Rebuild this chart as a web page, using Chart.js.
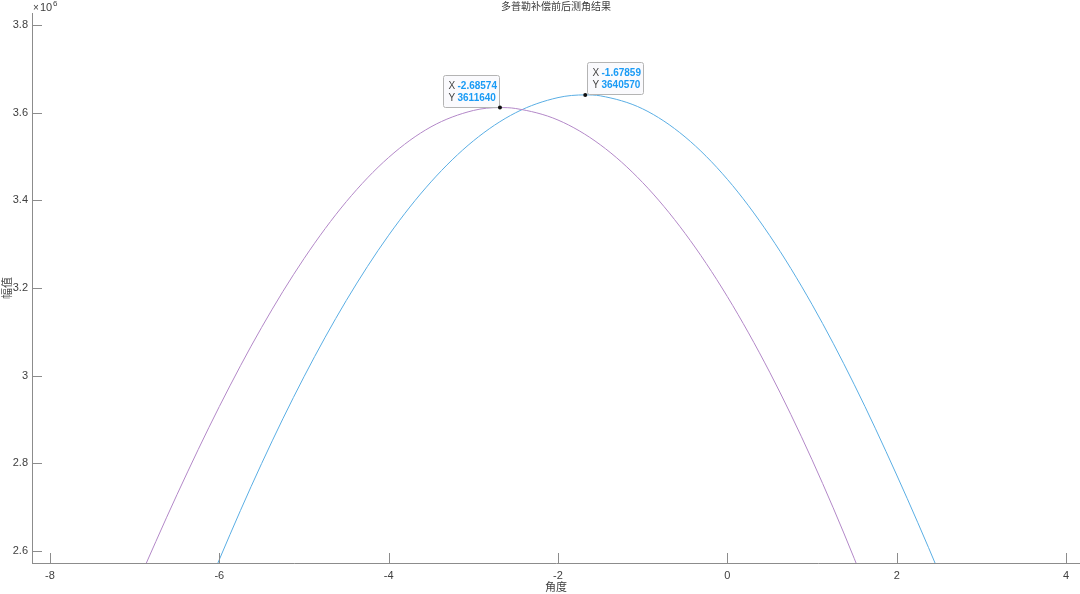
<!DOCTYPE html>
<html>
<head>
<meta charset="utf-8">
<script src="https://cdn.jsdelivr.net/npm/chart.js@4/dist/chart.umd.min.js"></script>
<style>
  html, body { margin: 0; padding: 0; background: #ffffff; }
  #wrap { width: 1080px; height: 594px; position: relative; }
</style>
</head>
<body>
<div id="wrap"><canvas id="c" width="1080" height="594"></canvas></div>
<script>
// ---- DATA ----
const chartTitle = '多普勒补偿前后测角结果';
const xAxisLabel = '角度';
const yAxisLabel = '幅值';

// before compensation (purple)
const purpleAngles = [-7, -6.5, -6, -5.5, -5, -4.5, -4, -3.5, -3, -2.68574, -2.5, -2, -1.5, -1, -0.5, 0, 0.5, 1, 1.5, 2];
const purpleValues = [2512500, 2728600, 2929600, 3110300, 3267000, 3397100, 3497900, 3567700, 3605000, 3611640, 3609500, 3583200, 3526700, 3440500, 3324800, 3180400, 3007900, 2808200, 2582300, 2331600];

// after compensation (blue)
const blueAngles = [-6.5, -6, -5.5, -5, -4.5, -4, -3.5, -3, -2.5, -2, -1.67859, -1.5, -1, -0.5, 0, 0.5, 1, 1.5, 2, 2.5, 3];
const blueValues = [2342300, 2580500, 2799800, 2997600, 3171700, 3320400, 3442100, 3535600, 3599900, 3634400, 3640570, 3638400, 3608700, 3544800, 3448000, 3319700, 3162500, 2979200, 2773400, 2551000, 2311000];

// data tips
const tipPurple = { x: -2.68574, y: 3611640 };
const tipBlue = { x: -1.67859, y: 3640570 };

// ticks
const xTicks = [-8, -6, -4, -2, 0, 2, 4];
const xTickLabels = ['-8', '-6', '-4', '-2', '0', '2', '4'];
const yTicks = [2600000, 2800000, 3000000, 3200000, 3400000, 3600000, 3800000];
const yTickLabels = ['2.6', '2.8', '3', '3.2', '3.4', '3.6', '3.8'];
const xRange = [-8.2126, 4.165];
const yRange = [2572600, 3827400];

// ---- CHART ----
const latin = '"Liberation Sans", Arial, sans-serif';
const cjk = '"Noto Sans CJK SC", "Liberation Sans", sans-serif';
const axisColor = '#8c8c8c';
const textColor = '#404040';

function pts(xs, ys) { return xs.map((v, i) => ({ x: v, y: ys[i] })); }

const overlay = {
  id: 'overlay',
  afterDraw(chart) {
    const { ctx, chartArea: a, scales: { x, y } } = chart;
    ctx.save();
    // inward tick marks
    ctx.strokeStyle = axisColor;
    ctx.lineWidth = 1;
    ctx.beginPath();
    x.ticks.forEach(t => {
      const px = Math.round(x.getPixelForValue(t.value)) + 0.5;
      ctx.moveTo(px, a.bottom);
      ctx.lineTo(px, a.bottom - 10);
    });
    y.ticks.forEach(t => {
      const py = Math.round(y.getPixelForValue(t.value)) + 0.5;
      ctx.moveTo(a.left, py);
      ctx.lineTo(a.left + 10, py);
    });
    ctx.stroke();

    // title
    ctx.fillStyle = '#3a3a3a';
    ctx.font = '10px ' + cjk;
    ctx.textAlign = 'center';
    ctx.textBaseline = 'middle';
    ctx.fillText(chartTitle, (a.left + a.right) / 2, 6);

    // x axis label
    ctx.fillStyle = textColor;
    ctx.font = '11px ' + cjk;
    ctx.fillText(xAxisLabel, (a.left + a.right) / 2, 587);

    // y axis label
    ctx.save();
    ctx.translate(7, (a.top + a.bottom) / 2);
    ctx.rotate(-Math.PI / 2);
    ctx.fillText(yAxisLabel, 0, 0);
    ctx.restore();

    // exponent  x10^6
    ctx.textAlign = 'left';
    ctx.fillStyle = textColor;
    ctx.font = '10px ' + latin;
    ctx.fillText('\u00d7', a.left + 1, 8);
    ctx.font = '11px ' + latin;
    ctx.fillText('10', a.left + 8, 8);
    ctx.font = '8px ' + latin;
    ctx.fillText('6', a.left + 21, 4);

    // data tips
    function tip(p, side) {
      const px = x.getPixelForValue(p.x);
      const py = y.getPixelForValue(p.y);
      const w = 56, h = 32;
      const bx = side === 'left' ? Math.round(px) - w - 0.5 : Math.round(px) + 2.5;
      const by = Math.round(py) - h - 0.5;
      ctx.fillStyle = 'rgba(250,250,253,0.95)';
      ctx.strokeStyle = '#b4b4b4';
      ctx.lineWidth = 1;
      ctx.beginPath();
      if (ctx.roundRect) ctx.roundRect(bx, by, w, h, 2); else ctx.rect(bx, by, w, h);
      ctx.fill();
      ctx.stroke();
      ctx.textAlign = 'left';
      ctx.textBaseline = 'middle';
      const lines = [['X', p.x.toFixed(5)], ['Y', String(p.y)]];
      lines.forEach((ln, i) => {
        const ty = by + 10.5 + i * 12.5;
        ctx.font = '10px ' + latin;
        ctx.fillStyle = '#444444';
        ctx.fillText(ln[0], bx + 5, ty);
        ctx.font = 'bold 10px ' + latin;
        ctx.fillStyle = '#1a9bf5';
        ctx.fillText(ln[1], bx + 14, ty);
      });
      ctx.fillStyle = '#111111';
      ctx.beginPath();
      ctx.arc(px, py, 2, 0, Math.PI * 2);
      ctx.fill();
    }
    tip(tipPurple, 'left');
    tip(tipBlue, 'right');
    ctx.restore();
  }
};

new Chart(document.getElementById('c'), {
  type: 'line',
  data: {
    datasets: [
      {
        label: 'before',
        data: pts(purpleAngles, purpleValues),
        borderColor: '#b388c8',
        borderWidth: 1,
        pointRadius: 0,
        cubicInterpolationMode: 'monotone',
        fill: false
      },
      {
        label: 'after',
        data: pts(blueAngles, blueValues),
        borderColor: '#5aaee4',
        borderWidth: 1,
        pointRadius: 0,
        cubicInterpolationMode: 'monotone',
        fill: false
      }
    ]
  },
  options: {
    responsive: false,
    animation: false,
    devicePixelRatio: 1,
    layout: { padding: { top: 13, left: 0, right: 0, bottom: 0 } },
    plugins: {
      legend: { display: false },
      title: { display: false },
      tooltip: { enabled: false }
    },
    scales: {
      x: {
        type: 'linear',
        min: xRange[0],
        max: xRange[1],
        afterBuildTicks: s => { s.ticks = xTicks.map(v => ({ value: v })); },
        afterFit: s => { s.height = 31; },
        grid: { display: false, drawTicks: false },
        border: { display: true, color: axisColor, width: 1 },
        ticks: {
          padding: 6,
          color: textColor,
          font: { family: latin, size: 11 },
          maxRotation: 0,
          autoSkip: false,
          callback: (v) => { const i = xTicks.indexOf(v); return i >= 0 ? xTickLabels[i] : ''; }
        }
      },
      y: {
        type: 'linear',
        min: yRange[0],
        max: yRange[1],
        afterBuildTicks: s => { s.ticks = yTicks.map(v => ({ value: v })); },
        afterFit: s => { s.width = 32; },
        grid: { display: false, drawTicks: false },
        border: { display: true, color: axisColor, width: 1 },
        ticks: {
          padding: 4,
          color: textColor,
          font: { family: latin, size: 11 },
          autoSkip: false,
          callback: (v) => { const i = yTicks.indexOf(v); return i >= 0 ? yTickLabels[i] : ''; }
        }
      }
    }
  },
  plugins: [overlay]
});
</script>
</body>
</html>
